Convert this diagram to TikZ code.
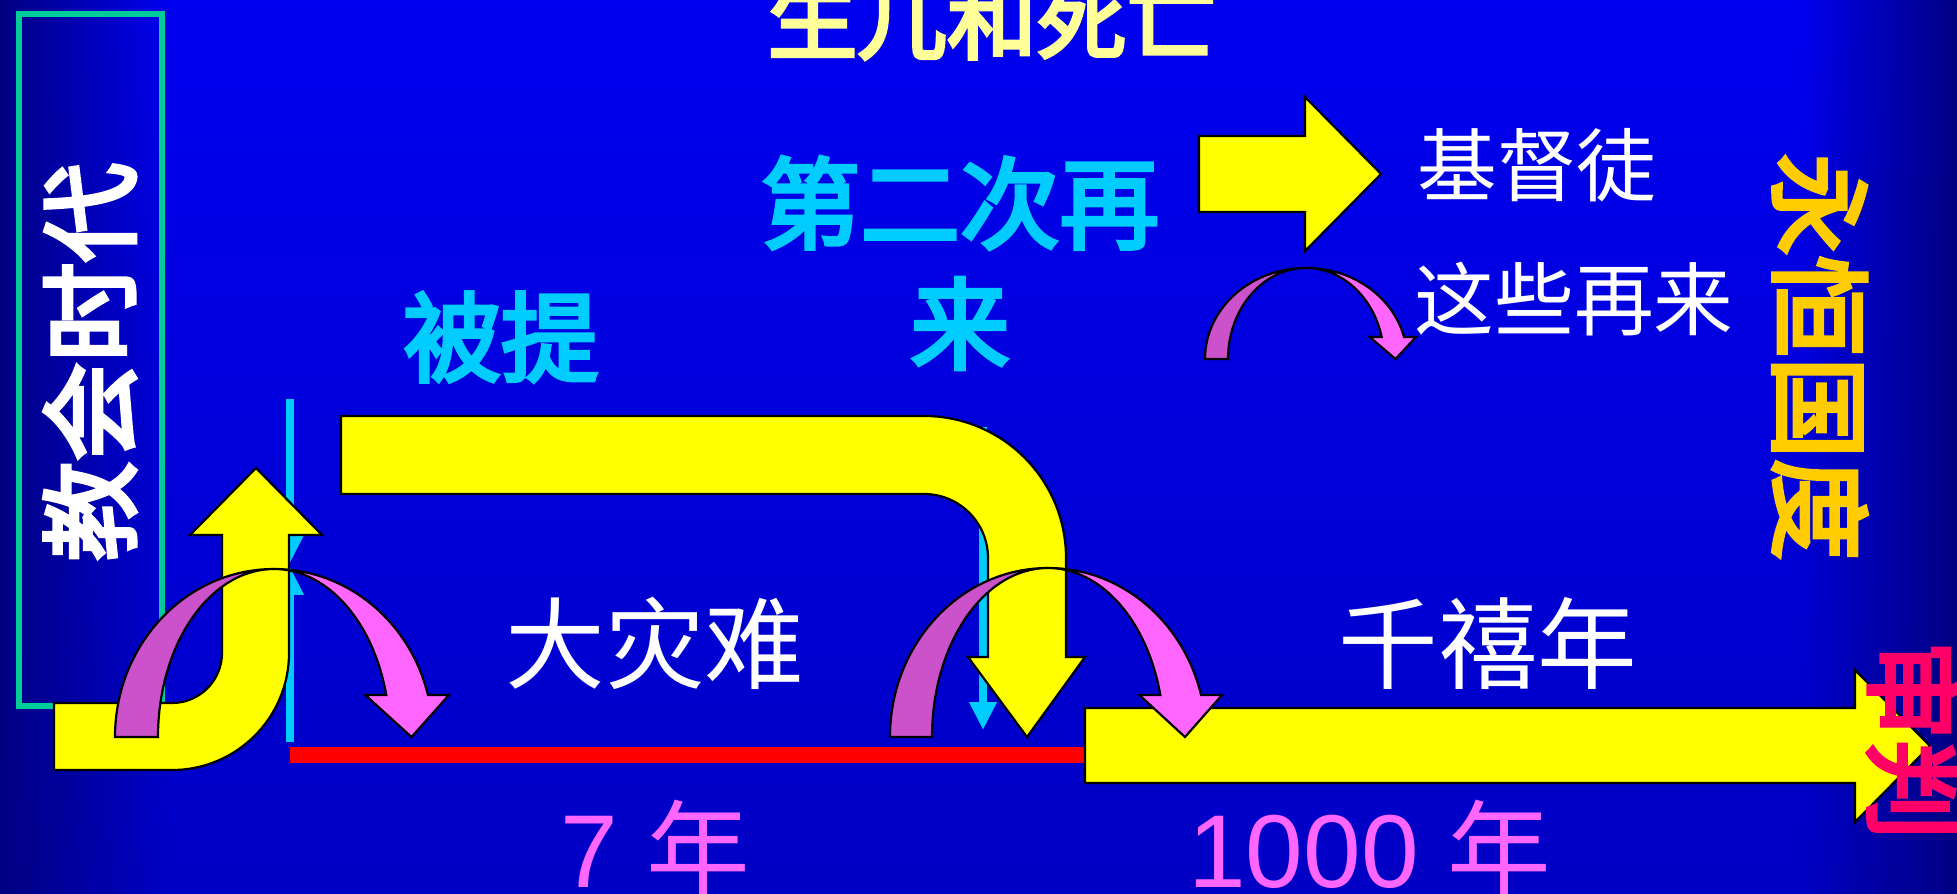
\documentclass[tikz,border=0pt]{standalone}
\usepackage{fontspec}
\setmainfont{Liberation Sans}
\newfontfamily\cjk{Noto Sans CJK SC}
\newfontfamily\cjkheavy{Noto Sans CJK SC}[FakeBold=4]
\usetikzlibrary{arrows.meta,fadings}
\definecolor{bgblue}{RGB}{0,0,240}
\definecolor{bgbottom}{RGB}{0,0,196}
\definecolor{bgnavy}{RGB}{0,0,130}
\definecolor{frameg}{RGB}{0,204,153}
\definecolor{cyanline}{RGB}{0,204,255}
\definecolor{arrowyel}{RGB}{255,255,0}
\definecolor{backpurp}{RGB}{204,82,204}
\definecolor{frontpink}{RGB}{255,102,255}
\definecolor{titleyel}{RGB}{255,255,153}
\definecolor{goldtext}{RGB}{255,204,0}
\definecolor{judgered}{RGB}{255,0,102}
\newcommand\fsz[1]{\fontsize{#1}{#1}\selectfont}
% cx, cy, outer rx, inner rx, ry, head base y, wing
\newcommand\twistarrow[7]{%
  \pgfmathsetmacro\tang{360+asin((#6-#2)/#5)}%
  \pgfmathsetmacro\tcos{cos(\tang)}%
  \pgfmathsetmacro\txo{#1+#3*\tcos}%
  \pgfmathsetmacro\txi{#1+#4*\tcos}%
  \pgfmathsetmacro\txt{#1+(#3+#4)/2}%
  \filldraw[twistback] (#1-#3,#2)
    arc[start angle=180,end angle=270,x radius=#3,y radius=#5]
    arc[start angle=270,end angle=180,x radius=#4,y radius=#5] -- cycle;
  \filldraw[twistfront] (#1,#2-#5)
    arc[start angle=270,end angle=\tang,x radius=#3,y radius=#5]
    -- (\txo+#7,#6) -- (\txt,#2) -- (\txi-#7,#6) -- (\txi,#6)
    arc[start angle=\tang,end angle=270,x radius=#4,y radius=#5] -- cycle;
}
\tikzset{
  bigarrow/.style={fill=arrowyel,draw=black,line width=2.2pt,line join=miter},
  twistback/.style={fill=backpurp,draw=black,line width=2.2pt},
  twistfront/.style={fill=frontpink,draw=black,line width=2.2pt},
  cyanarrow/.style={draw=cyanline,line width=8pt,-{Triangle[length=28pt,width=26pt]}},
  lbl/.style={inner sep=0pt,font=\cjk},
}
\begin{document}
\begin{tikzpicture}[x=1bp,y=-1bp]
\useasboundingbox (0,0) rectangle (1957,894);
% background
\shade[top color=bgblue,middle color=bgblue,bottom color=bgbottom] (0,0) rectangle (1957,894);
\fill[bgnavy,path fading=east] (0,0) rectangle (170,894);
\fill[bgnavy,path fading=west] (1800,0) rectangle (1957,894);
% frame of the church age
\draw[frameg,line width=6pt] (19,14) rectangle (162,706);
% cyan markers
\draw[cyanarrow] (290,399) -- (290,563);
\draw[cyanarrow] (290,742) -- (290,567);
\draw[cyanarrow] (983,427) -- (983,730);
% red bar
\fill[red] (290,747) rectangle (1090,763);
% yellow arrows
\filldraw[bigarrow] (54,703) -- (172,703) arc[start angle=90,end angle=0,radius=50]
  -- (222,535) -- (190,535) -- (256,468) -- (322,535) -- (289,535) -- (289,653)
  arc[start angle=0,end angle=90,radius=117] -- (54,770) -- cycle;
\filldraw[bigarrow] (341,416) -- (924,416) arc[start angle=-90,end angle=0,radius=142]
  -- (1066,657) -- (1085,657) -- (1027,737) -- (968,657) -- (988,657) -- (988,558)
  arc[start angle=0,end angle=-90,radius=64] -- (341,494) -- cycle;
\filldraw[bigarrow] (1085,708) -- (1855,708) -- (1855,670) -- (1930,746)
  -- (1855,822) -- (1855,783) -- (1085,783) -- cycle;
\filldraw[bigarrow] (1199,136) -- (1305,136) -- (1305,97) -- (1381,174)
  -- (1305,251) -- (1305,212) -- (1199,212) -- cycle;
% twisted curved arrows
\twistarrow{274}{737}{159}{116}{168}{695}{21}
\twistarrow{1048}{737}{158}{116}{169}{695}{21}
\twistarrow{1306}{359}{101}{78}{91}{337}{12}
% texts
\node[lbl,titleyel,font=\cjkheavy\fsz{90}] (title) at (992,18) {生儿和死亡};
\node[lbl,white,font=\cjkheavy\fsz{100},rotate=90] (church) at (90,362) {教会时代};
\node[lbl,cyanline,font=\cjkheavy\fsz{98}] (rapture) at (501,337) {被提};
\node[lbl,cyanline,font=\cjkheavy\fsz{100},align=center] (second) at (960,263) {第二次再\\[21pt]来};
\node[lbl,white,font=\cjk\fsz{80}] (christians) at (1537,165) {基督徒};
\node[lbl,white,font=\cjk\fsz{80}] (return) at (1574,299) {这些再来};
\node[lbl,goldtext,font=\cjkheavy\fsz{102},rotate=-90] (kingdom) at (1820,357) {永恒国度};
\node[lbl,white,font=\cjk\fsz{100}] (tribulation) at (655,643) {大灾难};
\node[lbl,white,font=\cjk\fsz{100}] (millennium) at (1488,643) {千禧年};
\node[lbl,judgered,font=\cjkheavy\fsz{100},rotate=-90] (judgment) at (1914,740) {审判};
\node[inner sep=0pt,anchor=base west,frontpink,font=\fsz{104}] (seven) at (560,887) {7 {\cjk 年}};
\node[inner sep=0pt,anchor=base west,frontpink,font=\fsz{104}] (thousand) at (1188,887) {1000 {\cjk 年}};
\end{tikzpicture}
\end{document}
